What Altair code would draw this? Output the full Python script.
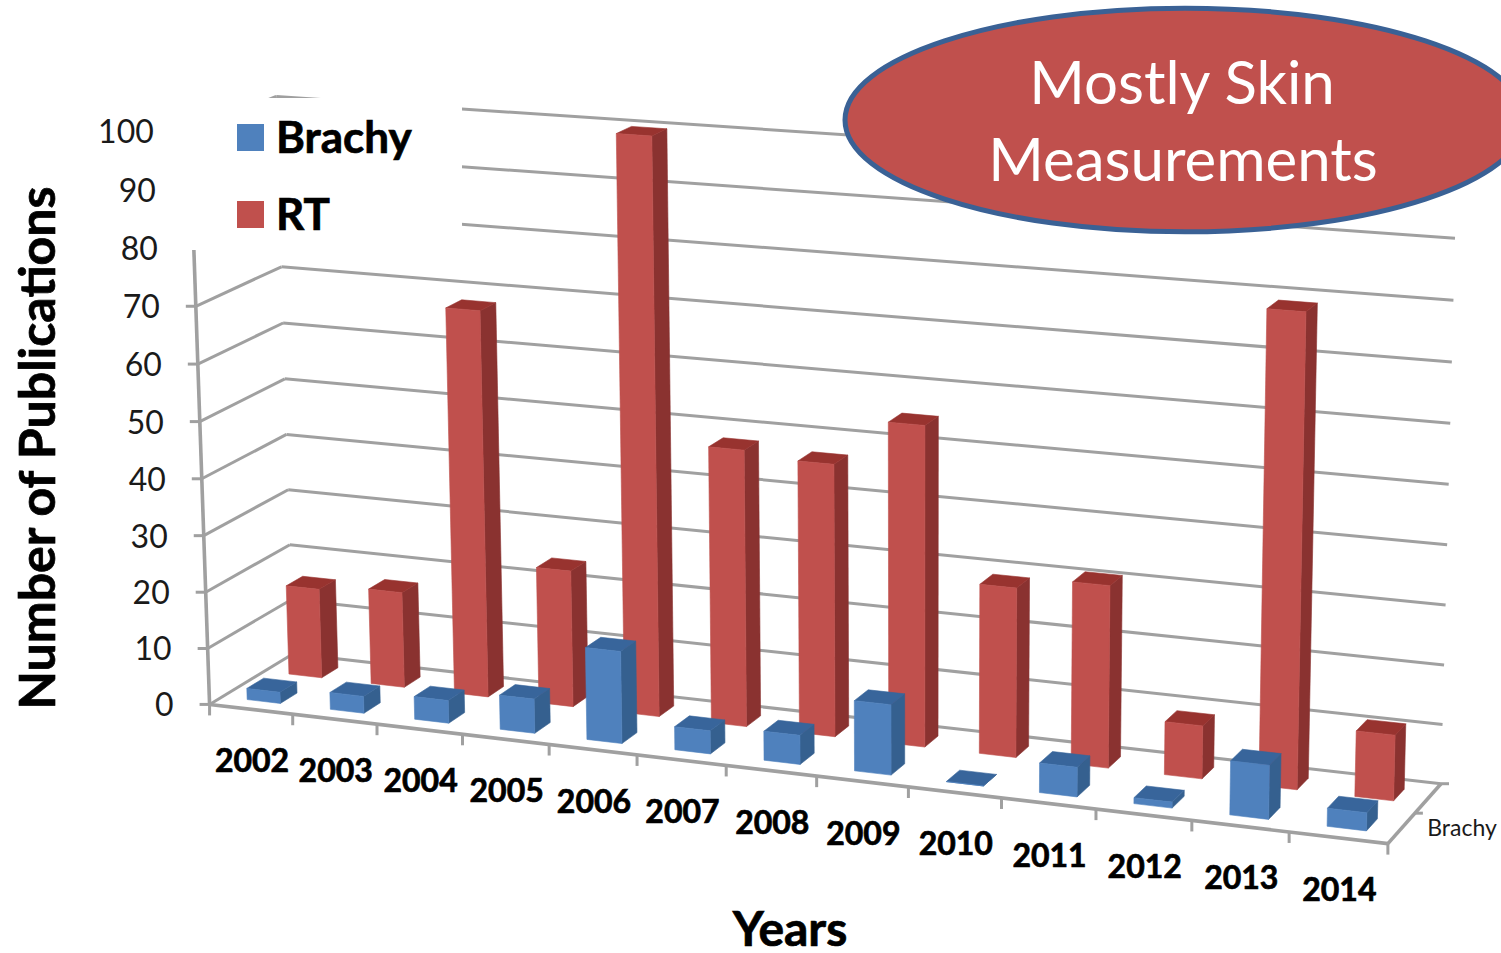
import altair as alt
import numpy as np
import pandas as pd

# Publication counts per year
YEARS = ["2002", "2003", "2004", "2005", "2006", "2007", "2008", "2009", "2010", "2011", "2012", "2013", "2014"]
BRACHY = [2, 3, 4, 6, 16, 4, 5, 12, 0, 5, 1, 9, 3]
RT = [16, 17, 68, 24, 100, 48, 47, 55, 29, 31, 9, 79, 11]
VALUE_TICKS = [0, 10, 20, 30, 40, 50, 60, 70, 80, 90, 100]

W, H = 1501, 953
BODY_FONT = "Lato"

# Camera of the 3D box: world (t along years, value, d into the page) -> page pixels
CAMERA_WORLD = [
    (0, 0, 0), (0, 10, 0), (0, 20, 0), (0, 30, 0), (0, 60, 0), (0, 70, 0), (0, 80, 0),
    (0, 0, 1), (0, 20, 1), (0, 60, 1), (0, 70, 1), (0, 100, 1),
    (1, 0, 1), (1, 30, 1), (1, 50, 1), (1, 70, 1), (1, 90, 1),
    (1, 0, 0),
]
CAMERA_PAGE = [
    (212, 703), (207, 648), (205, 593), (203, 535), (198, 363), (196, 306), (193, 250),
    (292, 655), (290, 545), (283, 324), (282, 267), (277, 95),
    (1441, 782), (1446, 605), (1449, 485), (1451, 362), (1455, 238),
    (1388, 845),
]


def fit_camera(world, page):
    rows = []
    for (a, b, c), (u, v) in zip(world, page):
        s = [a, b / 100, c, 1]
        rows.append(s + [0, 0, 0, 0] + [-u * q for q in s])
        rows.append([0, 0, 0, 0] + s + [-v * q for q in s])
    return np.linalg.svd(np.array(rows, dtype=float))[2][-1].reshape(3, 4)


CAM = fit_camera(CAMERA_WORLD, CAMERA_PAGE)


def project(t, v, d):
    p = CAM @ np.array([t, v / 100, d, 1.0])
    return float(p[0] / p[2]), float(p[1] / p[2])


x_scale = alt.Scale(domain=[0, W], range=[0, W], nice=False, zero=False)
y_scale = alt.Scale(domain=[0, H], range=[0, H], nice=False, zero=False)
X = alt.X("x:Q", scale=x_scale, axis=None)
Y = alt.Y("y:Q", scale=y_scale, axis=None)

# Wall lines, floor edges and tick stubs
grid, axes = [], []


def seg(store, a, b):
    store.append({"x": a[0], "y": a[1], "x2": b[0], "y2": b[1]})


for v in VALUE_TICKS:
    seg(grid, project(0, v, 0), project(0, v, 1))
    seg(grid, project(0, v, 1), project(1, v, 1))
    fx, fy = project(0, v, 0)
    if v <= 80:
        seg(grid, (fx - 10, fy), (fx, fy))
seg(axes, project(0, 0, 0), project(0, 80, 0))
seg(axes, project(0, 0, 0), project(1, 0, 0))
seg(axes, project(1, 0, 0), project(1, 0, 1))
for i in range(len(YEARS) + 1):
    fx, fy = project(i / len(YEARS), 0, 0)
    seg(grid, (fx, fy), (fx, fy + 11))
bx, by = project(1, 0, 1)
seg(grid, (bx, by), (bx + 8, by))
mx, my = project(1, 0, 0.5)
seg(grid, (mx, my), (mx + 8, my))


def rules(rows, width):
    return alt.Chart(pd.DataFrame(rows)).mark_rule(color="#A0A0A0", strokeWidth=width).encode(
        x=X, y=Y, x2="x2:Q", y2="y2:Q"
    )


# Bar faces from the values: 0.4 of a category wide, 0.4 of a row deep
def bar_faces(values, d0, d1):
    front, side, top = [], [], []
    n = len(values)
    for i, val in enumerate(values):
        t0, t1 = (i + 0.3) / n, (i + 0.7) / n
        for rows, corners in (
            (front, [(t0, 0, d0), (t1, 0, d0), (t1, val, d0), (t0, val, d0)]),
            (side, [(t1, 0, d0), (t1, 0, d1), (t1, val, d1), (t1, val, d0)]),
            (top, [(t0, val, d0), (t1, val, d0), (t1, val, d1), (t0, val, d1)]),
        ):
            for k, c in enumerate(corners):
                px, py = project(*c)
                rows.append({"bar": i, "k": k, "x": px, "y": py})
    return front, side, top


def face(rows, color):
    return alt.Chart(pd.DataFrame(rows)).mark_line(
        fill=color, stroke=color, strokeWidth=0.6, interpolate="linear-closed", filled=True
    ).encode(x=X, y=Y, detail="bar:N", order="k:Q")


rt_front, rt_side, rt_top = bar_faces(RT, 0.65, 0.85)
br_front, br_side, br_top = bar_faces(BRACHY, 0.15, 0.35)
bars = [
    face(rt_side, "#8A3230"), face(rt_top, "#98332F"), face(rt_front, "#C0504D"),
    face(br_side, "#35608F"), face(br_top, "#38659B"), face(br_front, "#4F81BD"),
]


def text(rows, **mark):
    return alt.Chart(pd.DataFrame(rows)).mark_text(font=BODY_FONT, **mark).encode(x=X, y=Y, text="label:N")


def heavy(rows, **mark):
    return text(rows, fontWeight="bold", color="black", stroke="black", strokeWidth=0.7, **mark)


year_rows = []
for i, y in enumerate(YEARS):
    cx, cy = project((i + 0.5) / len(YEARS), 0, 0)
    year_rows.append({"label": y, "x": cx + 1, "y": cy + 53})
value_rows = []
for v in VALUE_TICKS:
    fx, fy = project(0, v, 0)
    value_rows.append({"label": str(v), "x": fx - 36, "y": fy + 2})

# Panel behind the legend hides the upper wall lines
mask = alt.Chart(pd.DataFrame([{"x": 175, "x2": 462, "y": 98, "y2": 250}])).mark_rect(
    color="white"
).encode(x=X, x2="x2:Q", y=Y, y2="y2:Q")

legend_rows = [
    {"label": "Brachy", "x": 276, "y": 140, "sx": 237, "sx2": 264, "sy": 124, "sy2": 151, "c": "#4F81BD"},
    {"label": "RT", "x": 276, "y": 217, "sx": 237, "sx2": 264, "sy": 201, "sy2": 228, "c": "#C0504D"},
]
legend_df = pd.DataFrame(legend_rows)
legend_squares = alt.Chart(legend_df).mark_rect().encode(
    x=alt.X("sx:Q", scale=x_scale, axis=None), x2="sx2:Q",
    y=alt.Y("sy:Q", scale=y_scale, axis=None), y2="sy2:Q",
    color=alt.Color("c:N", scale=None),
)

# Callout oval, running off the right edge
oval = alt.Chart(pd.DataFrame([{"x": 1185, "y": 120}])).mark_point(
    shape="M -1 0 A 1 0.329 0 1 1 1 0 A 1 0.329 0 1 1 -1 0 Z",
    size=680 ** 2, filled=True, fill="#C0504D", stroke="#3A6195", strokeWidth=5, opacity=1,
).encode(x=X, y=Y)

layers = [
    rules(grid, 3), rules(axes, 3.6), *bars, mask, legend_squares,
    heavy(legend_rows, align="left", baseline="middle", fontSize=44),
    oval,
    text([{"label": "Mostly Skin", "x": 1182, "y": 86}, {"label": "Measurements", "x": 1183, "y": 163}],
         align="center", baseline="middle", fontSize=60, color="white"),
    text(value_rows, align="right", baseline="middle", fontSize=32, color="#1A1A1A"),
    heavy(year_rows, align="center", baseline="middle", fontSize=32),
    text([{"label": "Brachy", "x": 1462, "y": 829}], align="center", baseline="middle", fontSize=23, color="#1A1A1A"),
    heavy([{"label": "Years", "x": 790, "y": 932}], align="center", baseline="middle", fontSize=48),
    heavy([{"label": "Number of Publications", "x": 40, "y": 448}], align="center", baseline="middle", fontSize=50,
          angle=270),
]

chart = alt.layer(*layers).properties(
    width=W, height=H, padding=0, autosize=alt.AutoSizeParams(type="none"), background="white"
).configure_view(stroke=None)

chart.save("out.html", embed_options={"renderer": "svg", "actions": False})
